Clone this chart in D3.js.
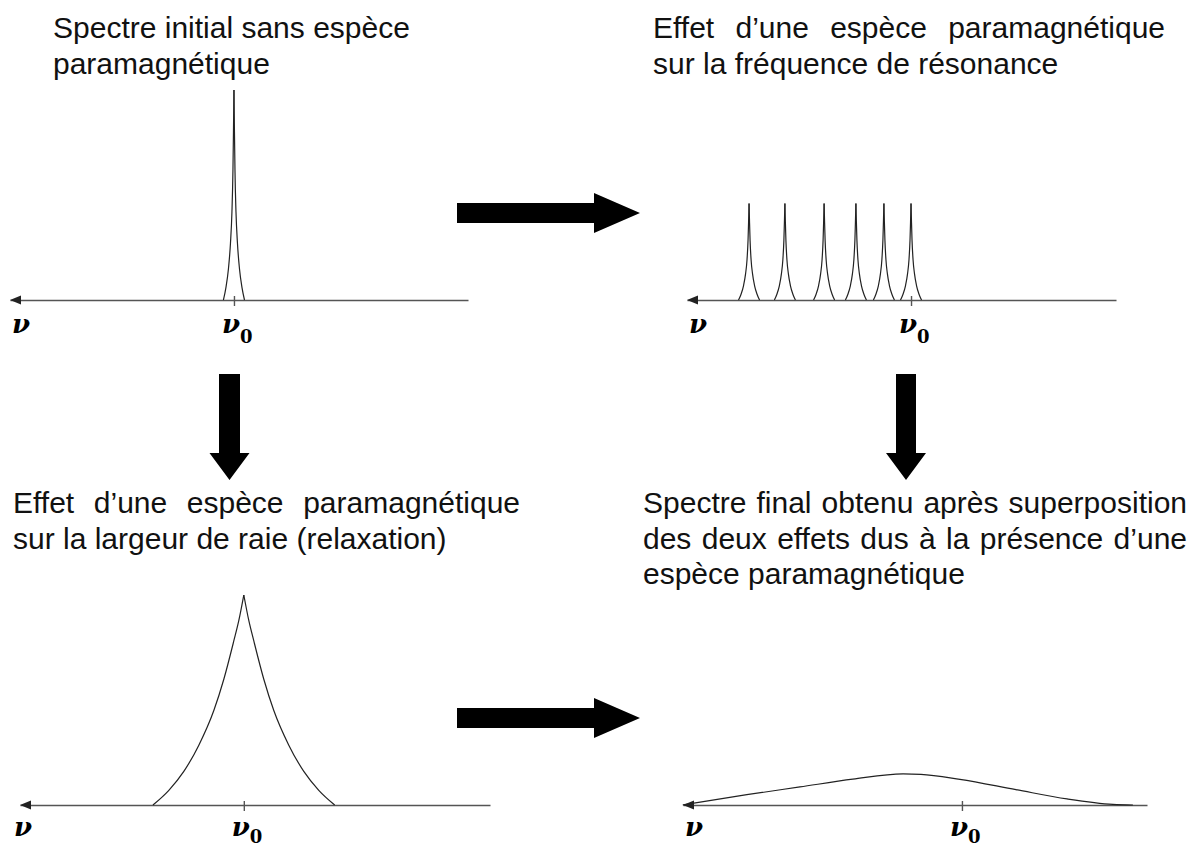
<!DOCTYPE html>
<html>
<head>
<meta charset="utf-8">
<script src="https://cdnjs.cloudflare.com/ajax/libs/d3/7.8.5/d3.min.js"></script>
<style>
  body { margin: 0; background: #fff; }
  .title { font-family: "Liberation Sans", Arial, sans-serif; font-size: 30px; fill: #111; }
  .nu { font-family: "DejaVu Serif", serif; font-weight: bold; font-style: italic; font-size: 26px; fill: #000; }
  .sub { font-style: normal; font-size: 18px; }
</style>
</head>
<body>
<svg id="chart"></svg>
<script>
const width = 1195;
const height = 848;

// Titres
const titleInitial = ["Spectre initial sans espèce", "paramagnétique"];
const titleShift = ["Effet d’une espèce paramagnétique", "sur la fréquence de résonance"];
const titleRelax = ["Effet d’une espèce paramagnétique", "sur la largeur de raie (relaxation)"];
const titleFinal = ["Spectre final obtenu après superposition", "des deux effets dus à la présence d’une", "espèce paramagnétique"];

const axisLabel = "ν";
const refLabel = "ν";
const refSub = "0";

// Etendue de chaque axe (décalage par rapport à ν0, unités arbitraires, ν croît vers la gauche)
const spanInitial = [10, -10.45];
const spanShift = [10, -9.15];
const spanRelax = [10, -11];
const spanFinal = [12.45, -8.26];

// Raie fine (sans espèce paramagnétique)
const narrowShift = [0.47, 0.357, 0.245, 0.156, 0.09, 0.045, 0.022, 0, -0.022, -0.045, -0.09, -0.156, -0.245, -0.357, -0.47];
const narrowIntensity = [0, 0.06, 0.15, 0.27, 0.42, 0.62, 0.80, 1, 0.80, 0.62, 0.42, 0.27, 0.15, 0.06, 0];

// Raies déplacées
const shiftedCenters = [7.23, 5.63, 3.88, 2.46, 1.21, 0];
const shiftedHeight = 0.46;

// Raie élargie (relaxation)
const broadShift = [4.06, 3.35, 2.68, 2.01, 1.34, 0.89, 0.45, 0.22, 0, -0.22, -0.45, -0.89, -1.34, -2.01, -2.68, -3.35, -4.06];
const broadIntensity = [0, 0.07, 0.16, 0.285, 0.45, 0.60, 0.78, 0.88, 1, 0.88, 0.78, 0.60, 0.45, 0.285, 0.16, 0.07, 0];

// Spectre final
const finalShift = [12.46, 9.60, 7.23, 4.87, 2.63, 1.83, 0.09, -2.41, -4.69, -6.74, -7.63];
const finalIntensity = [0, 0.049, 0.086, 0.123, 0.148, 0.146, 0.122, 0.073, 0.029, 0.003, 0];

const peakPx = 210;
const lineH = 35.5;
const axisColor = "#555";
const curveColor = "#222";

const svg = d3.select("#chart")
    .attr("width", width)
    .attr("height", height);

function drawTitle(lines, x, y, justifyTo) {
    lines.forEach((line, i) => {
        const yy = y + i * lineH;
        if (justifyTo && i < lines.length - 1) {
            const words = line.split(" ");
            const nodes = words.map(w => svg.append("text").attr("class", "title").attr("y", yy).text(w));
            const widths = nodes.map(n => n.node().getComputedTextLength());
            const gap = (justifyTo - x - d3.sum(widths)) / (words.length - 1);
            let cx = x;
            nodes.forEach((n, j) => { n.attr("x", cx); cx += widths[j] + gap; });
        } else {
            svg.append("text").attr("class", "title").attr("x", x).attr("y", yy).text(line);
        }
    });
}

// une raie en deux moitiés pour garder la pointe
function peakHalves(shifts, values, center, scale) {
    const pts = shifts.map((s, i) => [s + center, values[i] * scale]);
    const top = d3.maxIndex(pts, d => d[1]);
    return [pts.slice(0, top + 1), pts.slice(top)];
}

function drawPanel(p) {
    const x = d3.scaleLinear().domain(p.span).range(p.range);
    const y = d3.scaleLinear().domain([0, 1]).range([p.axisY, p.axisY - peakPx]);
    const g = svg.append("g");

    // Axe
    const ax = g.append("g")
        .attr("transform", `translate(0, ${p.axisY})`)
        .call(d3.axisBottom(x).tickValues([0]).tickSizeOuter(0).tickSizeInner(6).tickFormat(""));
    ax.select(".domain").attr("stroke", axisColor).attr("stroke-width", 1.6);
    ax.selectAll(".tick line").attr("y1", -4).attr("y2", 6)
        .attr("stroke", axisColor).attr("stroke-width", 1.4);

    // pointe de flèche à gauche
    const x0 = p.range[0];
    g.append("path")
        .attr("d", `M${x0},${p.axisY} L${x0 + 11},${p.axisY - 4.5} L${x0 + 11},${p.axisY + 4.5} Z`)
        .attr("fill", "#222");

    const line = d3.line()
        .x(d => x(d[0]))
        .y(d => y(d[1]))
        .curve(d3.curveMonotoneX);

    p.curves.forEach(c => {
        g.append("path")
            .attr("d", line(c))
            .attr("fill", "none")
            .attr("stroke", curveColor)
            .attr("stroke-width", 1.2);
    });

    // Libellés
    g.append("text").attr("class", "nu")
        .attr("x", p.nuX).attr("y", p.axisY + p.labelDy)
        .text(axisLabel);
    const ref = g.append("text").attr("class", "nu")
        .attr("x", x(0) - 12).attr("y", p.axisY + p.labelDy)
        .text(refLabel);
    ref.append("tspan").attr("class", "sub").attr("dy", p.subDy).text(refSub);
}

function blockArrow(x, y, dir, shaftLen, shaftW, headLen, headW) {
    let pts;
    if (dir === "right") {
        pts = [[x, y - shaftW / 2], [x + shaftLen, y - shaftW / 2], [x + shaftLen, y - headW / 2],
               [x + shaftLen + headLen, y], [x + shaftLen, y + headW / 2], [x + shaftLen, y + shaftW / 2],
               [x, y + shaftW / 2]];
    } else {
        pts = [[x - shaftW / 2, y], [x + shaftW / 2, y], [x + shaftW / 2, y + shaftLen],
               [x + headW / 2, y + shaftLen], [x, y + shaftLen + headLen], [x - headW / 2, y + shaftLen],
               [x - shaftW / 2, y + shaftLen]];
    }
    svg.append("path").attr("d", "M" + pts.join("L") + "Z").attr("fill", "#000");
}

// Panneau 1 : raie initiale
drawPanel({
    span: spanInitial, range: [10, 468], axisY: 300, nuX: 12, labelDy: 33, subDy: 10,
    curves: peakHalves(narrowShift, narrowIntensity, 0, 1)
});

// Panneau 2 : déplacement de fréquence
drawPanel({
    span: spanShift, range: [687, 1116], axisY: 300, nuX: 689, labelDy: 33, subDy: 10,
    curves: shiftedCenters.flatMap(c => peakHalves(narrowShift, narrowIntensity, c, shiftedHeight))
});

// Panneau 3 : élargissement
drawPanel({
    span: spanRelax, range: [20, 490], axisY: 805, nuX: 14, labelDy: 31, subDy: 7,
    curves: peakHalves(broadShift, broadIntensity, 0, 1)
});

// Panneau 4 : spectre final
drawPanel({
    span: spanFinal, range: [683, 1147], axisY: 805, nuX: 685, labelDy: 31, subDy: 7,
    curves: [finalShift.map((s, i) => [s, finalIntensity[i]])]
});

drawTitle(titleInitial, 53, 38, null);
drawTitle(titleShift, 653, 38, 1165);
drawTitle(titleRelax, 13, 513, 520);
drawTitle(titleFinal, 643, 513, 1187);

// Flèches
blockArrow(457, 213, "right", 137, 20, 46, 40);
blockArrow(457, 718, "right", 137, 20, 46, 40);
blockArrow(229.5, 374, "down", 79, 21, 27, 40);
blockArrow(906, 374, "down", 79, 20, 27, 40);
</script>
</body>
</html>
